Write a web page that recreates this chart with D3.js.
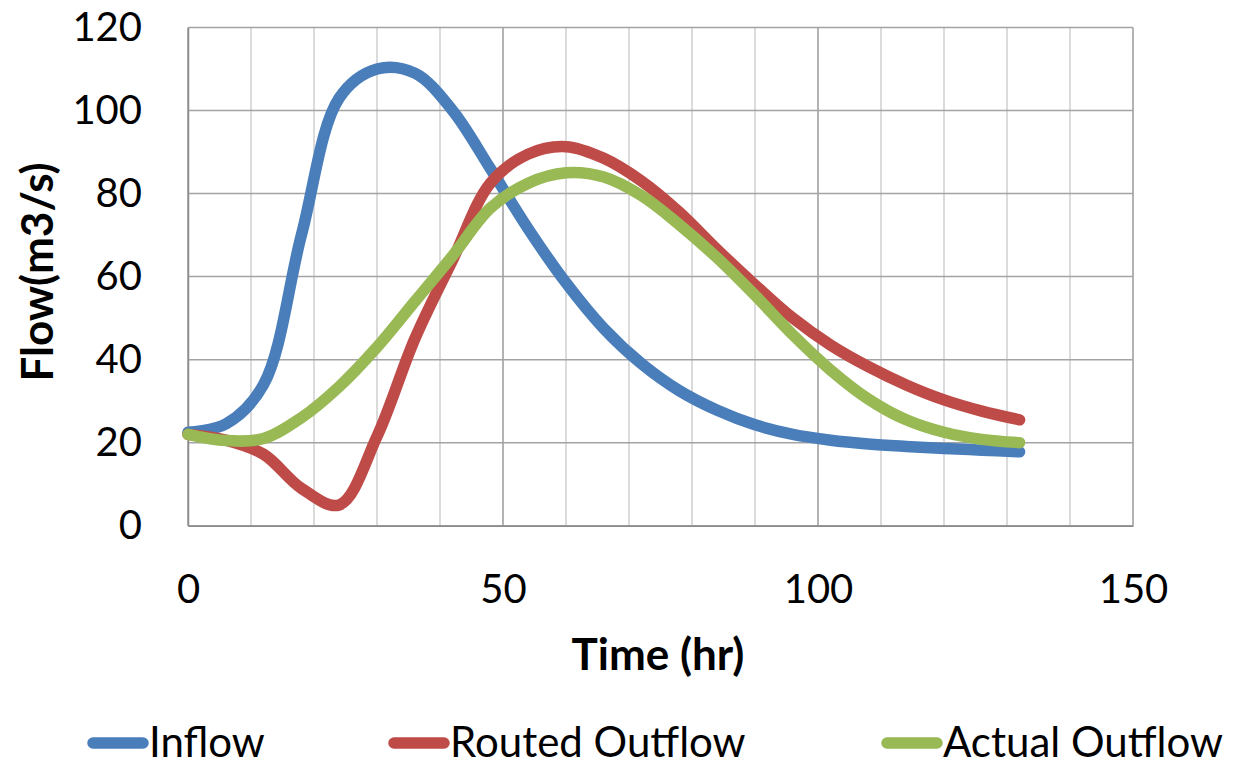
<!DOCTYPE html>
<html>
<head>
<meta charset="utf-8">
<script src="https://cdn.jsdelivr.net/npm/d3@7"></script>
<style>
  body { margin: 0; background: #fff; }
  text { font-family: Lato, "Open Sans", sans-serif; fill: #000; }
</style>
</head>
<body>
<script>
// time steps (hr) and flows (m3/s)
const times = [0, 6, 12, 18, 24, 30, 36, 42, 48, 54, 60, 66, 72, 78, 84, 90, 96, 102, 108, 114, 120, 126, 132];
const inflow = [22.5, 24.5, 34, 70, 103, 110, 109, 100, 86, 71.5, 58.5, 47.5, 39, 32.5, 27.8, 24.3, 22, 20.6, 19.7, 19.1, 18.6, 18.2, 17.8];
const routedOutflow = [22, 20.6, 17.2, 9, 5, 21.5, 45, 64, 82.5, 89.5, 91.3, 88.5, 83, 75.5, 66.5, 58, 50, 43.5, 38.3, 33.9, 30.3, 27.6, 25.5];
const actualOutflow = [22, 20.5, 21, 26, 33.5, 43, 54, 65, 76.5, 82.5, 85, 84, 79.5, 72.5, 64.5, 55.5, 46, 37.5, 30.5, 25.5, 22.5, 20.8, 20];

const seriesNames = ["Inflow", "Routed Outflow", "Actual Outflow"];
const colors = ["#4a7ebb", "#be4b48", "#98b954"];
const xTicks = [0, 50, 100, 150];
const yTicks = [0, 20, 40, 60, 80, 100, 120];

const W = 1234, H = 767;
const margin = {top: 27.5, right: 101, bottom: 241.3, left: 188},
    width = W - margin.left - margin.right,
    height = H - margin.top - margin.bottom;

const svg = d3.select("body").append("svg")
    .attr("width", W)
    .attr("height", H);

const g = svg.append("g")
    .attr("transform", "translate(" + margin.left + "," + margin.top + ")");

const x = d3.scaleLinear().domain([0, 150]).range([0, width]);
const y = d3.scaleLinear().domain([0, 120]).range([height, 0]);

// vertical grid every 10 hr, darker at the labelled ticks
g.append("g")
  .selectAll("line")
  .data(x.ticks(15))
  .join("line")
    .attr("x1", d => x(d)).attr("x2", d => x(d))
    .attr("y1", 0).attr("y2", height)
    .attr("stroke", d => d % 50 === 0 ? "#9a9a9a" : "#cfcfcf")
    .attr("stroke-width", 1.5);

// horizontal grid
g.append("g")
  .selectAll("line")
  .data(yTicks)
  .join("line")
    .attr("x1", 0).attr("x2", width)
    .attr("y1", d => y(d)).attr("y2", d => y(d))
    .attr("stroke", "#a3a3a3")
    .attr("stroke-width", 1.5);

// axes
const yAxis = g.append("g")
    .call(d3.axisLeft(y).tickValues(yTicks).tickSize(0).tickPadding(46));
const xAxis = g.append("g")
    .attr("transform", "translate(0," + height + ")")
    .call(d3.axisBottom(x).tickValues(xTicks).tickSize(0).tickPadding(49));
[xAxis, yAxis].forEach(a => {
  a.select(".domain").attr("stroke", "#8c8c8c").attr("stroke-width", 1.5);
  a.selectAll("text").style("font-size", "40px").style("font-family", "Lato");
});

// lines
const line = d3.line()
    .x((d, i) => x(times[i]))
    .y(d => y(d))
    .curve(d3.curveCatmullRom.alpha(0.5));

[inflow, routedOutflow, actualOutflow].forEach((s, i) => {
  g.append("path")
      .datum(s)
      .attr("fill", "none")
      .attr("stroke", colors[i])
      .attr("stroke-width", 11.5)
      .attr("stroke-linecap", "round")
      .attr("stroke-linejoin", "round")
      .attr("d", line);
});

// axis titles
svg.append("text")
    .attr("x", 658).attr("y", 670)
    .attr("text-anchor", "middle")
    .style("font-size", "44px").style("font-weight", "bold")
    .text("Time (hr)");

svg.append("text")
    .attr("transform", "translate(53,272) rotate(-90)")
    .attr("text-anchor", "middle")
    .style("font-size", "44px").style("font-weight", "bold")
    .text("Flow(m3/s)");

// legend
const legendX = [87, 388, 881];
const legend = svg.append("g").attr("transform", "translate(0,743)");
seriesNames.forEach((name, i) => {
  legend.append("line")
      .attr("x1", legendX[i] + 6).attr("x2", legendX[i] + 56)
      .attr("y1", 0).attr("y2", 0)
      .attr("stroke", colors[i])
      .attr("stroke-width", 11.5)
      .attr("stroke-linecap", "round");
  legend.append("text")
      .attr("x", legendX[i] + 62).attr("y", 14)
      .style("font-size", "42px")
      .text(name);
});
</script>
</body>
</html>
